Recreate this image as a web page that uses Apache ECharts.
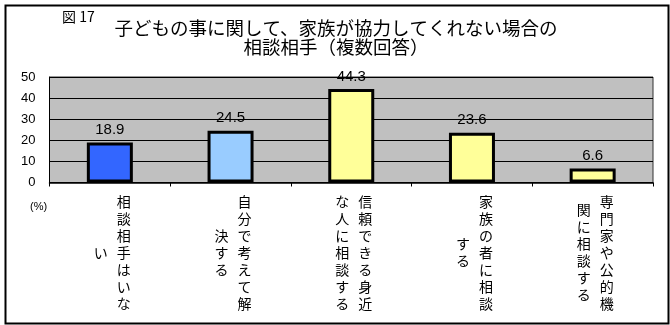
<!DOCTYPE html>
<html>
<head>
<meta charset="utf-8">
<script src="https://cdn.jsdelivr.net/npm/echarts@6/dist/echarts.min.js"></script>
<style>
html,body{margin:0;padding:0;background:#fff;}
#chart{width:670px;height:325px;}
</style>
</head>
<body>
<div id="chart"></div>
<script>
// Data
const categories = [
  '相談相手はいない',
  '自分で考えて解決する',
  '信頼できる身近な人に相談する',
  '家族の者に相談する',
  '専門家や公的機関に相談する'
];
const values = [18.9, 24.5, 44.3, 23.6, 6.6];
const barColors = ['#3366FF', '#99CCFF', '#FFFF99', '#FFFF99', '#FFFF99'];
const yTicks = [0, 10, 20, 30, 40, 50];
const titleLines = ['子どもの事に関して、家族が協力してくれない場合の', '相談相手（複数回答）'];
const figureLabel = '図 17';
const unitLabel = '(%)';

const COL = 7; // characters per vertical column
const jp = '"Noto Sans CJK JP", "Noto Sans", sans-serif';
const num = '"Liberation Sans", Arial, sans-serif';

function rightCol(s) { return s.slice(0, COL).split('').join('\n'); }
function leftCol(s) { return s.slice(COL).split('').join('\n'); }

const chart = echarts.init(document.getElementById('chart'), null, {renderer: 'canvas'});
chart.setOption({
  animation: false,
  backgroundColor: '#ffffff',
  title: [
    {
      text: titleLines.join('\n'),
      left: 331,
      top: 13,
      textAlign: 'center',
      padding: 5,
      textStyle: {fontFamily: jp, fontSize: 18.5, fontWeight: 'normal', color: '#000', lineHeight: 19}
    },
    {
      text: figureLabel,
      left: 57,
      top: 5,
      padding: 5,
      textStyle: {fontFamily: jp, fontSize: 14, fontWeight: 'normal', color: '#000'}
    }
  ],
  grid: {
    left: 49.5, right: 17, top: 77, bottom: 142.5,
    show: true,
    backgroundColor: '#C0C0C0',
    borderColor: '#333',
    borderWidth: 1
  },
  xAxis: [
    {
      type: 'category',
      data: categories,
      position: 'bottom',
      axisLine: {show: true, lineStyle: {color: '#000', width: 1.5}},
      axisTick: {show: true, length: 4, lineStyle: {color: '#000'}},
      axisLabel: {
        interval: 0,
        formatter: rightCol,
        fontFamily: jp,
        fontSize: 14,
        lineHeight: 17,
        color: '#000',
        margin: 70,
        verticalAlign: 'middle',
        align: 'center',
        padding: [0, 0, 0, 28]
      }
    },
    {
      type: 'category',
      data: categories,
      position: 'bottom',
      gridIndex: 0,
      axisLine: {show: false},
      axisTick: {show: false},
      splitLine: {show: false},
      axisLabel: {
        interval: 0,
        formatter: leftCol,
        fontFamily: jp,
        fontSize: 14,
        lineHeight: 17,
        color: '#000',
        margin: 70,
        verticalAlign: 'middle',
        align: 'center',
        padding: [0, 18, 0, 0]
      }
    }
  ],
  yAxis: {
    type: 'value',
    min: yTicks[0],
    max: yTicks[yTicks.length - 1],
    interval: 10,
    axisLine: {show: true, lineStyle: {color: '#000', width: 1}},
    axisTick: {show: false},
    splitLine: {show: true, lineStyle: {color: '#000', width: 1}},
    axisLabel: {fontFamily: num, fontSize: 13, color: '#000', margin: 14}
  },
  graphic: [
    {
      type: 'rect',
      left: 3, top: 3,
      shape: {width: 663, height: 318},
      style: {fill: 'none', stroke: '#000', lineWidth: 2},
      silent: true
    },
    {
      type: 'text',
      left: 30, top: 201,
      style: {text: unitLabel, fontFamily: num, fontSize: 11, fill: '#000'}
    }
  ],
  series: [{
    type: 'bar',
    xAxisIndex: 0,
    data: values.map((v, i) => ({value: v, itemStyle: {color: barColors[i]}})),
    barWidth: 46,
    itemStyle: {borderColor: '#000', borderWidth: 3},
    label: {
      show: true,
      position: 'top',
      distance: 5,
      fontFamily: num,
      fontSize: 15,
      color: '#000',
      formatter: p => p.value.toFixed(1)
    }
  }]
});
</script>
</body>
</html>
